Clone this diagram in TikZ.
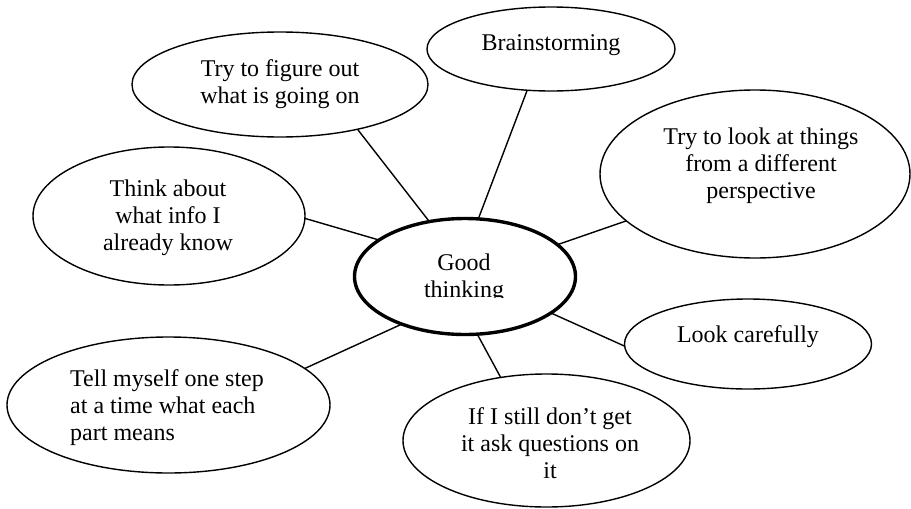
\documentclass[tikz,border=0pt]{standalone}
\usepackage{fontspec}
\setmainfont{Liberation Serif}
\usetikzlibrary{shapes.geometric}
\begin{document}
\begin{tikzpicture}[x=1pt,y=-1pt,
  bubble/.style={ellipse,draw,line width=1.4pt,inner sep=0pt,outer sep=0pt},
  hub/.style={ellipse,draw,line width=3.4pt,inner sep=0pt,outer sep=0pt},
  caption/.style={inner sep=0pt,align=center,anchor=base,font=\fontsize{24}{27}\selectfont},
  link/.style={line width=1.4pt}]
\useasboundingbox (0,0) rectangle (911,509);

% outlines of the bubbles
\node[hub, minimum width=221pt, minimum height=116pt] (G) at (465,276.5) {};
\node[bubble, minimum width=248pt, minimum height=84pt] (B) at (551,49) {};
\node[bubble, minimum width=296pt, minimum height=105pt] (F) at (280,84.5) {};
\node[bubble, minimum width=272pt, minimum height=138pt] (T) at (169,216) {};
\node[bubble, minimum width=310pt, minimum height=168pt] (P) at (755,174) {};
\node[bubble, minimum width=247pt, minimum height=90pt] (L) at (748,344) {};
\node[bubble, minimum width=323pt, minimum height=136pt] (M) at (168.5,405) {};
\node[bubble, minimum width=287pt, minimum height=133pt] (Q) at (546.5,440.5) {};

% captions (multi-line captions sit on the baseline of their last line)
\begin{scope}
  \clip (300,200) rectangle (630,297.5);
  \node[caption] (Gt) at (464,297) {Good\\thinking};
\end{scope}
\node[caption] (Bt) at (551,50) {Brainstorming};
\node[caption] (Ft) at (280,103) {Try to figure out\\what is going on};
\node[caption] (Tt) at (168,250) {Think about\\what info I\\already know};
\node[caption] (Pt) at (761,198) {Try to look at things\\from a different\\perspective};
\node[caption] (Lt) at (748,342) {Look carefully};
\node[caption, align=left, anchor=base west] (Mt) at (70,440) {Tell myself one step\\at a time what each\\part means};
\node[caption] (Qt) at (550,478) {If I still don’t get\\it ask questions on\\it};

% spokes from the hub
\draw[link] (B.240) -- (G.77);
\draw[link] (F.-30) -- (G.123);
\draw[link] (T.-1) -- (G.157.6);
\draw[link] (P.200) -- (G.19.4);
\draw[link] (L.181) -- (G.-23);
\draw[link] (M.15.3) -- (G.217);
\draw[link] (Q.126) -- (G.-78);
\end{tikzpicture}
\end{document}
